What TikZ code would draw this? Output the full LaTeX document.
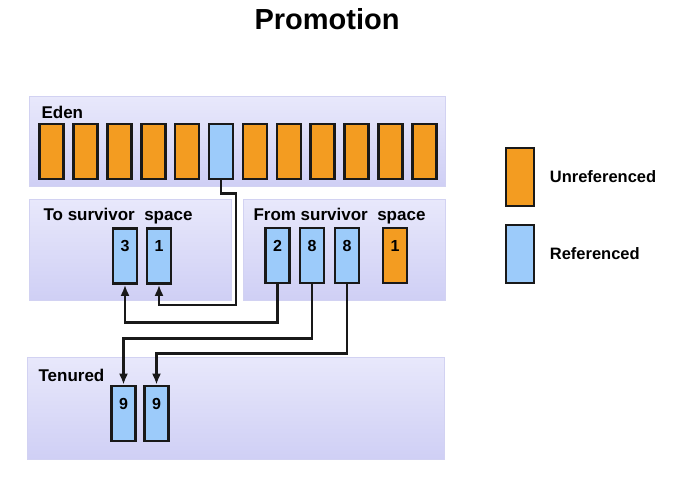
\documentclass[tikz,border=0pt]{standalone}
\usepackage{fontspec}
\setmainfont{Liberation Sans}
\usetikzlibrary{arrows.meta,positioning}
\definecolor{unref}{HTML}{F39C21}
\definecolor{refd}{HTML}{9CCBFA}
\definecolor{paneltop}{HTML}{E8E8FB}
\definecolor{panelbot}{HTML}{CFCFF5}
\definecolor{panelline}{HTML}{D2D2F2}
\begin{document}
\begin{tikzpicture}[x=1pt,y=-1pt,>={Latex[length=11pt,width=9pt]},font=\fontsize{17}{20}\selectfont\bfseries]
  \tikzstyle{panel}=[draw=panelline,line width=1.5pt,top color=paneltop,bottom color=panelbot,inner sep=0pt]
  \tikzstyle{cell}=[draw=black!90,line width=2.6pt,minimum width=24pt,minimum height=55pt,inner sep=0pt]
  \tikzstyle{num}=[cell,fill=refd,text height=23pt,text depth=32pt,font=\fontsize{16}{19}\selectfont\bfseries]
  \tikzstyle{link}=[line width=2.8pt,black!90]
  \useasboundingbox[fill=white] (0,0) rectangle (691,484);
  \node[font=\fontsize{29}{33}\selectfont\bfseries] (title) at (327,19) {Promotion};
  % generations
  \node[panel,minimum width=416pt,minimum height=90pt] (eden) at (237.5,141.5) {};
  \node[panel,minimum width=202pt,minimum height=101pt] (to) at (130.5,250) {};
  \node[panel,minimum width=202pt,minimum height=101pt] (from) at (344.5,250) {};
  \node[panel,minimum width=417pt,minimum height=102pt] (ten) at (236,408.5) {};
  \node[anchor=west] (edenlbl) at (38,112) {Eden};
  \node[anchor=west] (tolbl) at (40,216) {To survivor\ \ space};
  \node[anchor=west] (fromlbl) at (250,216) {From survivor\ \ space};
  \node[anchor=west] (tenlbl) at (35,375) {Tenured};
  % eden objects
  \foreach \i in {0,...,4,6,7,8,9,10,11}
    \node[cell,fill=unref] (e\i) at ({51.5+33.9*\i},151.5) {};
  \node[cell,fill=refd] (e5) at ({51.5+33.9*5},151.5) {};
  % survivor objects
  \node[num] (t3) at (125,256) {3};
  \node[num] (t1) at (159,256) {1};
  \node[num] (f2) at (277.5,255.5) {2};
  \node[num] (f8a) at (312,255.5) {8};
  \node[num] (f8b) at (347,255.5) {8};
  \node[num,fill=unref] (f1) at (395,255.5) {1};
  % tenured objects
  \node[num] (n9a) at (123.5,413.5) {9};
  \node[num] (n9b) at (156.5,413.5) {9};
  % legend
  \node[cell,fill=unref,minimum width=28pt,minimum height=58pt] (kunref) at (520,177) {};
  \node[cell,fill=refd,minimum width=28pt,minimum height=58pt] (kref) at (520,254) {};
  \node[anchor=west,right=11pt of kunref,font=\fontsize{16.5}{19}\selectfont\bfseries] {Unreferenced};
  \node[anchor=west,right=11pt of kref,font=\fontsize{16.5}{19}\selectfont\bfseries] {Referenced};
  % promotion paths
  \draw[link,->] (e5.south) -- ++(0,13) -| (236,305) -| (t1.south);
  \draw[link,->] (f2.south) -- ++(0,38) -| (t3.south);
  \draw[link,->] (f8a.south) -- ++(0,54) -| (n9a.north);
  \draw[link,->] (f8b.south) -- ++(0,69) -| (n9b.north);
\end{tikzpicture}
\end{document}
